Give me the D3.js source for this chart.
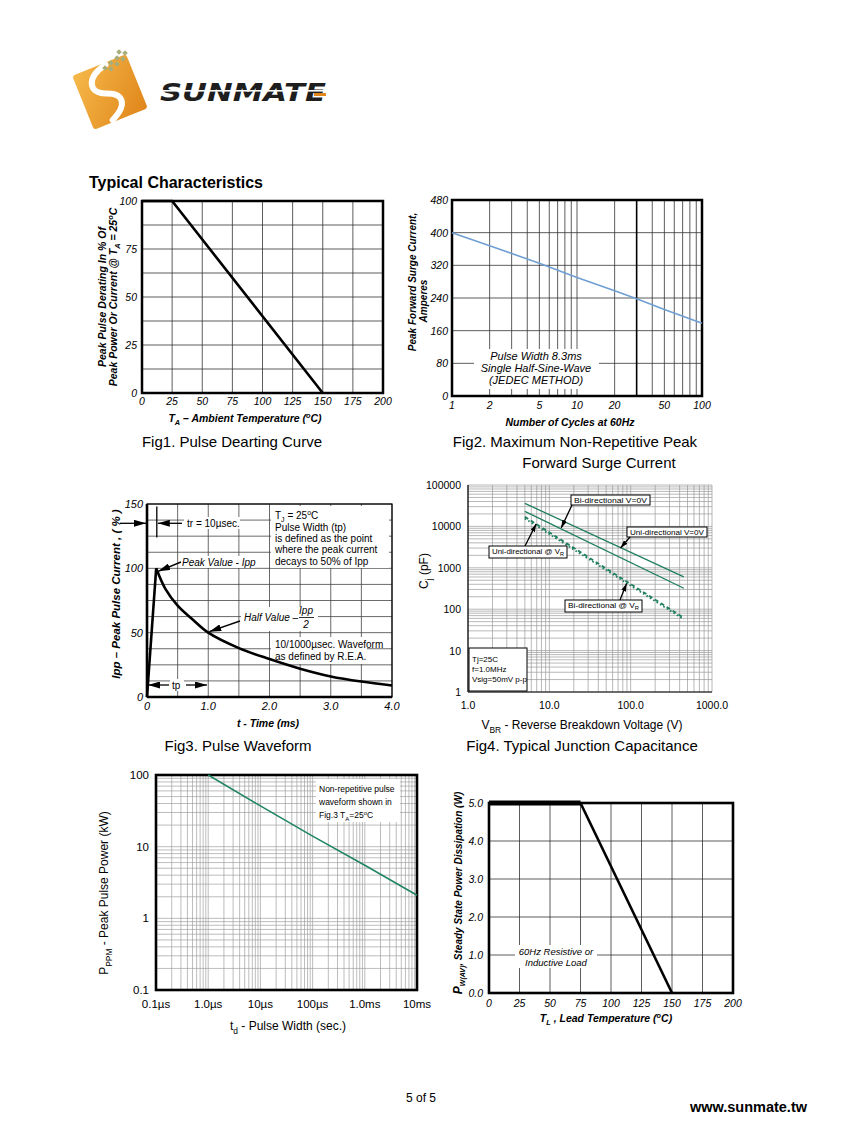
<!DOCTYPE html>
<html><head><meta charset="utf-8">
<script src="https://cdn.jsdelivr.net/npm/d3@7"></script>
<style>body{margin:0;background:#fff}svg{display:block;font-family:"Liberation Sans",Arial,sans-serif}</style>
</head><body><svg id="page" width="847" height="1139"></svg>
<script>
// ---------------- DATA ----------------
// Fig1 Pulse derating
const fig1Temp = [0, 25, 150];
const fig1Pct = [100, 100, 0];
const fig1XTicks = [0, 25, 50, 75, 100, 125, 150, 175, 200];
const fig1YTicks = [0, 25, 50, 75, 100];
// Fig2 Surge current
const fig2Cycles = [1, 2, 5, 10, 20, 30, 50, 100];
const fig2Amps = [400, 368, 325, 290, 258, 238, 212, 178];
const fig2XTicks = [1, 2, 5, 10, 20, 50, 100];
const fig2YTicks = [0, 80, 160, 240, 320, 400, 480];
// Fig3 Pulse waveform (rise then decay)
const fig3RiseTime = [0, 0.15];
const fig3RiseIpp = [0, 100];
const fig3Time = [0.15, 0.3, 0.5, 0.75, 1.0, 1.5, 2.0, 2.5, 3.0, 3.5, 4.0];
const fig3Ipp = [100, 84, 71, 60, 50, 38, 29.5, 22, 16, 12, 9];
const fig3XTicks = [0, 1, 2, 3, 4];
const fig3XLabels = ["0", "1.0", "2.0", "3.0", "4.0"];
const fig3YTicks = [0, 50, 100, 150];
// Fig4 Junction capacitance
const fig4Vbr = [5, 450];
const fig4BiZero = [36000, 605];
const fig4UniZero = [23000, 320];
const fig4UniVR = [17000, 62];
const fig4BiVR = [15500, 57];
const fig4XTicks = [1, 10, 100, 1000];
const fig4XLabels = ["1.0", "10.0", "100.0", "1000.0"];
const fig4YTicks = [1, 10, 100, 1000, 10000, 100000];
// Fig5 Peak pulse power
const fig5Td = [1e-6, 1e-5, 1e-4, 1e-3, 1e-2];
const fig5Ppm = [100, 37, 14, 5.5, 2.1];
const fig5XTicks = [1e-7, 1e-6, 1e-5, 1e-4, 1e-3, 1e-2];
const fig5XLabels = ["0.1\u00b5s", "1.0\u00b5s", "10\u00b5s", "100\u00b5s", "1.0ms", "10ms"];
const fig5YTicks = [0.1, 1, 10, 100];
const fig5YLabels = ["0.1", "1", "10", "100"];
// Fig6 Steady state power
const fig6Temp = [0, 75, 150];
const fig6Pw = [5, 5, 0];
const fig6XTicks = [0, 25, 50, 75, 100, 125, 150, 175, 200];
const fig6YTicks = [0, 1, 2, 3, 4, 5];

// ---------------- HELPERS ----------------
const svg = d3.select('#page');
const defs = svg.append('defs');
function marker(id, w, h) {
  defs.append('marker').attr('id', id).attr('markerUnits', 'userSpaceOnUse')
    .attr('viewBox', `0 0 ${w} ${h}`).attr('refX', w).attr('refY', h / 2)
    .attr('markerWidth', w).attr('markerHeight', h).attr('orient', 'auto')
    .append('path').attr('d', `M0,0 L${w},${h / 2} L0,${h} Z`).attr('fill', '#000');
}
marker('arrBig', 12, 7);
marker('arrSmall', 8, 5);

function rich(t, segs, size) {
  let shift = 0;
  segs.forEach(s => {
    const seg = typeof s === 'string' ? { t: s } : s;
    const target = seg.sub ? size * 0.3 : seg.sup ? -size * 0.4 : 0;
    const ts = t.append('tspan').text(seg.t).attr('dy', target - shift);
    if (seg.sub || seg.sup) ts.attr('font-size', size * 0.7);
    if (seg.size) ts.attr('font-size', seg.size);
    shift = target;
  });
  return t;
}
function label(g, x, y, segs, o) {
  o = o || {};
  const size = o.size || 11;
  const t = g.append('text').attr('font-size', size)
    .attr('text-anchor', o.anchor || 'start')
    .attr('font-style', o.italic ? 'italic' : 'normal')
    .attr('font-weight', o.bold ? 'bold' : 'normal')
    .attr('fill', '#000');
  if (o.rotate) t.attr('transform', `translate(${x},${y}) rotate(-90)`);
  else t.attr('x', x).attr('y', y);
  if (o.len) t.attr('textLength', o.len).attr('lengthAdjust', 'spacingAndGlyphs');
  return rich(t, segs, size);
}
function whiteBox(g, x, y, w, h, stroke) {
  g.append('rect').attr('x', x).attr('y', y).attr('width', w).attr('height', h)
    .attr('fill', '#fff').attr('stroke', stroke ? '#000' : 'none').attr('stroke-width', 1);
}
function arrow(g, x1, y1, x2, y2, m, w) {
  g.append('line').attr('x1', x1).attr('y1', y1).attr('x2', x2).attr('y2', y2)
    .attr('stroke', '#000').attr('stroke-width', w || 1.3).attr('marker-end', `url(#${m})`);
}
function gridLines(g, xs, ys, x, y, color, width) {
  g.append('g').selectAll('line').data(xs).join('line')
    .attr('x1', d => x(d)).attr('x2', d => x(d)).attr('y1', y.range()[0]).attr('y2', y.range()[1])
    .attr('stroke', color).attr('stroke-width', width);
  g.append('g').selectAll('line').data(ys).join('line')
    .attr('y1', d => y(d)).attr('y2', d => y(d)).attr('x1', x.range()[0]).attr('x2', x.range()[1])
    .attr('stroke', color).attr('stroke-width', width);
}
function frame(g, x, y, w) {
  const [x0, x1] = x.range(), [y0, y1] = y.range();
  g.append('rect').attr('x', x0).attr('y', y1).attr('width', x1 - x0).attr('height', y0 - y1)
    .attr('fill', 'none').attr('stroke', '#000').attr('stroke-width', w);
}
function xLabels(g, x, ticks, labels, yPos, o) {
  ticks.forEach((v, i) => label(g, x(v), yPos, [labels ? labels[i] : String(v)], Object.assign({ anchor: 'middle' }, o)));
}
function yLabels(g, y, ticks, labels, xPos, o) {
  ticks.forEach((v, i) => label(g, xPos, y(v) + 4, [labels ? labels[i] : String(v)], Object.assign({ anchor: 'end' }, o)));
}
function logMinor(lo, hi) {
  const out = [];
  for (let d = lo; d < hi * 0.999; d *= 10) for (let k = 1; k < 10; k++) out.push(d * k);
  out.push(hi);
  return out;
}

// ---------------- HEADER / LOGO ----------------
const logo = svg.append('g');
const grad = defs.append('linearGradient').attr('id', 'og').attr('x1', 0).attr('y1', 0).attr('x2', 1).attr('y2', 1);
grad.append('stop').attr('offset', 0).attr('stop-color', '#f6b84a');
grad.append('stop').attr('offset', 1).attr('stop-color', '#e0861a');
const lg = logo.append('g').attr('transform', 'translate(110,92) rotate(-22)');
lg.append('rect').attr('x', -29).attr('y', -29).attr('width', 58).attr('height', 58).attr('rx', 3).attr('fill', 'url(#og)');
lg.append('path').attr('d', 'M6,-27 C-18,-22 -20,-6 -4,0 C12,6 12,18 -8,27')
  .attr('fill', 'none').attr('stroke', '#fff').attr('stroke-width', 6).attr('stroke-linecap', 'round');
[[103, 66], [109, 61], [115, 56], [109, 67], [115, 62], [121, 57], [117, 50], [123, 51]].forEach(p =>
  logo.append('rect').attr('x', p[0]).attr('y', p[1]).attr('width', 4).attr('height', 4)
    .attr('fill', '#a7ad7a').attr('transform', `rotate(45,${p[0] + 2},${p[1] + 2})`));
logo.append('text').attr('x', 160).attr('y', 101).attr('font-size', 25).attr('font-weight', 'bold')
  .attr('font-style', 'italic').attr('fill', '#1e1e1e').attr('textLength', 166)
  .attr('lengthAdjust', 'spacingAndGlyphs').attr('font-family', '"DejaVu Sans", sans-serif').text('SUNMATE');
logo.append('rect').attr('x', 158).attr('y', 90).attr('width', 172).attr('height', 1.6).attr('fill', '#fff');
logo.append('rect').attr('x', 314).attr('y', 93).attr('width', 12).attr('height', 3).attr('fill', '#e0861a');

label(svg, 89, 188, ['Typical Characteristics'], { size: 16, bold: true });

// ---------------- FIG 1 ----------------
{
  const g = svg.append('g');
  const x = d3.scaleLinear([0, 200], [142, 383]);
  const y = d3.scaleLinear([0, 100], [393, 201]);
  gridLines(g, d3.range(0, 201, 25), d3.range(0, 100.1, 12.5), x, y, '#333', 0.8);
  frame(g, x, y, 2.5);
  g.append('path').datum(fig1Temp.map((t, i) => [t, fig1Pct[i]]))
    .attr('d', d3.line().x(d => x(d[0])).y(d => y(d[1])))
    .attr('fill', 'none').attr('stroke', '#000').attr('stroke-width', 2.6);
  xLabels(g, x, fig1XTicks, null, 405, { italic: true, size: 10.5 });
  yLabels(g, y, fig1YTicks, null, 137, { italic: true, size: 10.5 });
  label(g, 106, 297, ['Peak Pulse Derating In % Of'], { rotate: true, anchor: 'middle', bold: true, italic: true, size: 10.5 });
  label(g, 117, 297, ['Peak Power Or Current @ T', { t: 'A', sub: true }, ' = 25', { t: 'o', sup: true }, 'C'], { rotate: true, anchor: 'middle', bold: true, italic: true, size: 10.5 });
  label(g, 245, 422, ['T', { t: 'A', sub: true }, '  \u2013 Ambient Temperature (', { t: 'o', sup: true }, 'C)'], { anchor: 'middle', bold: true, italic: true, size: 10.5 });
  label(g, 232, 447, ['Fig1. Pulse Dearting Curve'], { anchor: 'middle', size: 15 });
}

// ---------------- FIG 2 ----------------
{
  const g = svg.append('g');
  const x = d3.scaleLog([1, 100], [452, 702]);
  const y = d3.scaleLinear([0, 480], [396, 200]);
  const xs = logMinor(1, 100).filter(v => v !== 30);
  gridLines(g, xs, d3.range(0, 481, 80), x, y, '#333', 0.8);
  g.append('line').attr('x1', x(30)).attr('x2', x(30)).attr('y1', 200).attr('y2', 396).attr('stroke', '#000').attr('stroke-width', 1.6);
  whiteBox(g, 474, 349, 125, 40);
  label(g, 536, 360, ['Pulse Width 8.3ms'], { anchor: 'middle', italic: true, size: 11 });
  label(g, 536, 372, ['Single Half-Sine-Wave'], { anchor: 'middle', italic: true, size: 11 });
  label(g, 536, 384, ['(JEDEC METHOD)'], { anchor: 'middle', italic: true, size: 11 });
  frame(g, x, y, 2.5);
  g.append('path').datum(fig2Cycles.map((c, i) => [c, fig2Amps[i]]))
    .attr('d', d3.line().x(d => x(d[0])).y(d => y(d[1])))
    .attr('fill', 'none').attr('stroke', '#6f9fd3').attr('stroke-width', 1.6);
  xLabels(g, x, fig2XTicks, null, 409, { italic: true, size: 10.5 });
  yLabels(g, y, fig2YTicks, null, 448, { italic: true, size: 10.5 });
  label(g, 416, 282, ['Peak Forward Surge Current,'], { rotate: true, anchor: 'middle', bold: true, italic: true, size: 10 });
  label(g, 427, 301, ['Amperes'], { rotate: true, anchor: 'middle', bold: true, italic: true, size: 10 });
  label(g, 570, 426, ['Number of Cycles at 60Hz'], { anchor: 'middle', bold: true, italic: true, size: 10.5 });
  label(g, 575, 447, ['Fig2. Maximum Non-Repetitive Peak'], { anchor: 'middle', size: 15 });
  label(g, 599, 468, ['Forward Surge Current'], { anchor: 'middle', size: 15 });
}

// ---------------- FIG 3 ----------------
{
  const g = svg.append('g');
  const x = d3.scaleLinear([0, 4], [147, 392]);
  const y = d3.scaleLinear([0, 150], [697, 504]);
  gridLines(g, d3.range(0, 4.01, 0.5), d3.range(0, 150.1, 12.5), x, y, '#444', 0.8);
  frame(g, x, y, 1.2);
  g.append('line').attr('x1', x(0)).attr('x2', x(0)).attr('y1', y(150)).attr('y2', y(0)).attr('stroke', '#000').attr('stroke-width', 2.6);
  g.append('line').attr('x1', x(0)).attr('x2', x(4)).attr('y1', y(0)).attr('y2', y(0)).attr('stroke', '#000').attr('stroke-width', 2.6);
  // annotations backgrounds
  whiteBox(g, 184, 517, 56, 12);
  whiteBox(g, 271, 506, 118, 62);
  whiteBox(g, 180, 556, 75, 12);
  whiteBox(g, 241, 607, 77, 24);
  whiteBox(g, 271, 637, 96, 27);
  whiteBox(g, 170, 679, 14, 12);
  // curve: linear rise, smooth decay
  const ln = d3.line().x(d => x(d[0])).y(d => y(d[1]));
  g.append('path').datum(fig3RiseTime.map((t, i) => [t, fig3RiseIpp[i]]))
    .attr('d', ln).attr('fill', 'none').attr('stroke', '#000').attr('stroke-width', 2.6).attr('stroke-linejoin', 'round');
  g.append('path').datum(fig3Time.map((t, i) => [t, fig3Ipp[i]]))
    .attr('d', ln.curve(d3.curveCatmullRom))
    .attr('fill', 'none').attr('stroke', '#000').attr('stroke-width', 2.6);
  // tr annotation
  arrow(g, 120, y(135), x(0) - 1, y(135), 'arrBig', 1.3);
  g.append('line').attr('x1', x(0.16)).attr('x2', x(0.16)).attr('y1', y(148)).attr('y2', y(124)).attr('stroke', '#000').attr('stroke-width', 1.3);
  arrow(g, 182, y(135), x(0.16) + 1, y(135), 'arrBig', 1.3);
  label(g, 187, 527, ['tr = 10\u00b5sec.'], { size: 10 });
  label(g, 275, 519, ['T', { t: 'J', sub: true }, ' = 25', { t: 'o', sup: true }, 'C'], { size: 10 });
  label(g, 275, 531, ['Pulse Width (tp)'], { size: 10 });
  label(g, 275, 542, ['is defined as the point'], { size: 10 });
  label(g, 275, 553, ['where the peak current'], { size: 10 });
  label(g, 275, 565, ['decays to 50% of  Ipp'], { size: 10 });
  label(g, 182, 566, ['Peak Value - ', { t: 'Ipp' }], { italic: true, size: 10 });
  arrow(g, 181, 562, x(0.15) + 2, y(100) + 3, 'arrBig', 1.4);
  label(g, 244, 621, ['Half Value \u2013'], { italic: true, size: 10 });
  label(g, 306, 614, ['Ipp'], { italic: true, size: 10, anchor: 'middle' });
  g.append('line').attr('x1', 299).attr('x2', 314).attr('y1', 617.5).attr('y2', 617.5).attr('stroke', '#000').attr('stroke-width', 0.8);
  label(g, 306, 628, ['2'], { italic: true, size: 10, anchor: 'middle' });
  arrow(g, 240, 621, x(1.0) + 1, y(50) - 1, 'arrBig', 1.4);
  label(g, 275, 648, ['10/1000\u00b5sec. Waveform'], { size: 10 });
  label(g, 275, 660, ['as defined by R.E.A.'], { size: 10 });
  arrow(g, 169, 685, x(0) + 1, 685, 'arrBig', 1.3);
  label(g, 172, 689, ['tp'], { size: 10 });
  arrow(g, 186, 685, 207, 685, 'arrBig', 1.3);
  xLabels(g, x, fig3XTicks, fig3XLabels, 710, { italic: true, size: 11 });
  yLabels(g, y, fig3YTicks, null, 143, { italic: true, size: 11 });
  label(g, 120, 594, ['Ipp \u2013 Peak Pulse Current , ( % )'], { rotate: true, anchor: 'middle', bold: true, italic: true, size: 11.5 });
  label(g, 268, 727, ['t - Time (ms)'], { anchor: 'middle', bold: true, italic: true, size: 10.5 });
  label(g, 238, 751, ['Fig3. Pulse Waveform'], { anchor: 'middle', size: 15 });
}

// ---------------- FIG 4 ----------------
{
  const g = svg.append('g');
  const x = d3.scaleLog([1, 1000], [468, 712]);
  const y = d3.scaleLog([1, 100000], [692, 485]);
  gridLines(g, logMinor(1, 1000), logMinor(1, 100000), x, y, '#9a9a9a', 0.7);
  g.append('line').attr('x1', 468).attr('x2', 468).attr('y1', 485).attr('y2', 692).attr('stroke', '#000').attr('stroke-width', 1.2);
  g.append('line').attr('x1', 468).attr('x2', 712).attr('y1', 692).attr('y2', 692).attr('stroke', '#000').attr('stroke-width', 1.2);
  const ln = d3.line().x(d => x(d[0])).y(d => y(d[1]));
  const green = '#1f7f5c';
  [[fig4BiZero, null], [fig4UniZero, null], [fig4UniVR, '4,3'], [fig4BiVR, '1.6,2.4']].forEach(([vals, dash]) => {
    g.append('path').datum(fig4Vbr.map((v, i) => [v, vals[i]])).attr('d', ln)
      .attr('fill', 'none').attr('stroke', green).attr('stroke-width', dash ? 1.8 : 1.3)
      .attr('stroke-dasharray', dash);
  });
  const boxes = [
    { x: 571, y: 495, w: 79, h: 10, t: ['Bi-directional V=0V'] },
    { x: 627, y: 527, w: 80, h: 10, t: ['Uni-directional V=0V'] },
    { x: 489, y: 546, w: 78, h: 12, t: ['Uni-directional @ V', { t: 'R', sub: true }] },
    { x: 565, y: 600, w: 77, h: 12, t: ['Bi-directional @ V', { t: 'R', sub: true }] }
  ];
  boxes.forEach(b => {
    whiteBox(g, b.x, b.y, b.w, b.h, true);
    label(g, b.x + b.w / 2, b.y + 8, b.t, { anchor: 'middle', size: 8, len: b.w - 6 });
  });
  arrow(g, 572, 505, x(14), y(9200), 'arrSmall', 1.3);
  arrow(g, 630, 537, x(75), y(3000), 'arrSmall', 1.3);
  arrow(g, 525, 546, x(6.9), y(11500), 'arrSmall', 1.3);
  arrow(g, 620, 600, x(89), y(420), 'arrSmall', 1.3);
  whiteBox(g, 469, 648, 58, 43, true);
  label(g, 472, 662, ['Tj=25C'], { size: 8 });
  label(g, 472, 672, ['f=1.0MHz'], { size: 8 });
  label(g, 472, 682, ['Vsig=50mV p-p'], { size: 8 });
  xLabels(g, x, fig4XTicks, fig4XLabels, 709, { size: 10.5 });
  yLabels(g, y, fig4YTicks, null, 461, { size: 10.5 });
  label(g, 428, 571, ['C', { t: 'j', sub: true }, ' (pF)'], { rotate: true, anchor: 'middle', size: 12 });
  label(g, 582, 729, ['V', { t: 'BR', sub: true }, ' - Reverse Breakdown Voltage (V)'], { anchor: 'middle', size: 12 });
  label(g, 582, 751, ['Fig4. Typical Junction Capacitance'], { anchor: 'middle', size: 15 });
}

// ---------------- FIG 5 ----------------
{
  const g = svg.append('g');
  const x = d3.scaleLog([1e-7, 1e-2], [156, 417]);
  const y = d3.scaleLog([0.1, 100], [990, 775]);
  gridLines(g, logMinor(1e-7, 1e-2), logMinor(0.1, 100), x, y, '#a0a0a0', 0.7);
  whiteBox(g, 316, 779, 84, 43);
  label(g, 319, 792, ['Non-repetitive pulse'], { size: 8.5 });
  label(g, 319, 805, ['waveform shown in'], { size: 8.5 });
  label(g, 319, 818, ['Fig.3 T', { t: 'A', sub: true }, '=25', { t: 'o', sup: true }, 'C'], { size: 8.5 });
  frame(g, x, y, 2.6);
  g.append('path').datum(fig5Td.map((t, i) => [t, fig5Ppm[i]]))
    .attr('d', d3.line().x(d => x(d[0])).y(d => y(d[1])))
    .attr('fill', 'none').attr('stroke', '#1f8463').attr('stroke-width', 1.5);
  xLabels(g, x, fig5XTicks, fig5XLabels, 1008, { size: 11.5 });
  yLabels(g, y, fig5YTicks, fig5YLabels, 149, { size: 11.5 });
  label(g, 108, 893, ['P', { t: 'PPM', sub: true }, ' - Peak Pulse Power (kW)'], { rotate: true, anchor: 'middle', size: 12 });
  label(g, 288, 1030, ['t', { t: 'd', sub: true }, ' - Pulse Width (sec.)'], { anchor: 'middle', size: 12 });
}

// ---------------- FIG 6 ----------------
{
  const g = svg.append('g');
  const x = d3.scaleLinear([0, 200], [489, 733]);
  const y = d3.scaleLinear([0, 5], [993, 803]);
  gridLines(g, d3.range(0, 201, 25), d3.range(0, 5.01, 1), x, y, '#333', 0.8);
  whiteBox(g, 515, 945, 82, 23);
  label(g, 556, 955, ['60Hz Resistive or'], { anchor: 'middle', italic: true, size: 9.5 });
  label(g, 556, 966, ['Inductive Load'], { anchor: 'middle', italic: true, size: 9.5 });
  frame(g, x, y, 2.6);
  g.append('path').datum(fig6Temp.slice(0, 2).map((t, i) => [t, fig6Pw[i]]))
    .attr('d', d3.line().x(d => x(d[0])).y(d => y(d[1])))
    .attr('fill', 'none').attr('stroke', '#000').attr('stroke-width', 5);
  g.append('path').datum(fig6Temp.slice(1).map((t, i) => [t, fig6Pw[i + 1]]))
    .attr('d', d3.line().x(d => x(d[0])).y(d => y(d[1])))
    .attr('fill', 'none').attr('stroke', '#000').attr('stroke-width', 2.6);
  xLabels(g, x, fig6XTicks, null, 1007, { italic: true, size: 10.5 });
  yLabels(g, y, fig6YTicks, fig6YTicks.map(v => v.toFixed(1)), 483, { italic: true, size: 10.5 });
  label(g, 462, 893, [{ t: 'P', size: 12 }, { t: 'W(AV)', sub: true }, ', Steady State Power Dissipation (W)'], { rotate: true, anchor: 'middle', bold: true, italic: true, size: 10 });
  label(g, 606, 1022, ['T', { t: 'L', sub: true }, ' , Lead Temperature  (', { t: 'o', sup: true }, 'C)'], { anchor: 'middle', bold: true, italic: true, size: 10.5 });
}

// ---------------- FOOTER ----------------
label(svg, 406, 1102, ['5 of 5'], { size: 12 });
label(svg, 807, 1112, ['www.sunmate.tw'], { size: 14.5, bold: true, anchor: 'end' });
</script>
</body></html>
